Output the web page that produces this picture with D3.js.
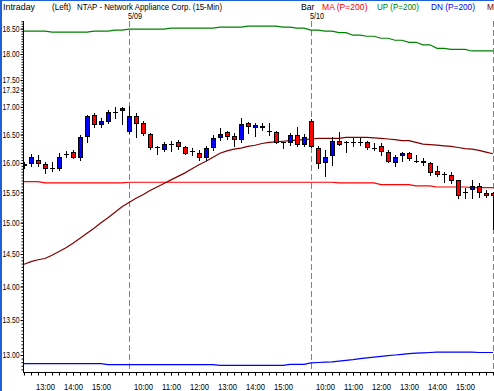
<!DOCTYPE html>
<html>
<head>
<meta charset="utf-8">
<script src="https://cdn.jsdelivr.net/npm/d3@7"></script>
<style>
  html, body { margin: 0; padding: 0; background: #fff; }
  svg { display: block; }
  text { font-family: "Liberation Sans", Arial, sans-serif; font-size: 9px; }
</style>
</head>
<body>
<script>
//chart values, one entry per 15-min bar (5/08 12:15 .. 5/11 09:30)
const opens = [15.97,16.00,16.06,15.98,15.91,15.92,16.16,16.19,16.10,16.47,16.86,16.69,16.75,16.91,16.95,
  16.57,16.84,16.70,16.51,16.27,16.24,16.34,16.36,16.28,16.20,16.17,16.11,16.28,16.45,16.54,16.47,16.42,16.70,
  16.63,16.66,16.56,16.55,16.36,16.37,16.50,16.33,
  16.74,16.26,16.01,16.14,16.39,16.36,16.36,16.36,16.36,16.26,16.30,16.19,16.02,16.13,16.17,16.04,16.04,16.00,
  15.86,15.81,15.80,15.70,15.50,15.56,15.60,15.49,15.49];
const highs = [16.02,16.16,16.14,16.02,16.01,16.18,16.20,16.23,16.49,16.86,16.89,16.80,16.95,17.00,17.00,
  17.02,16.89,16.75,16.53,16.30,16.36,16.39,16.40,16.30,16.26,16.22,16.29,16.49,16.61,16.57,16.52,16.80,16.73,
  16.70,16.70,16.70,16.57,16.37,16.53,16.64,16.51,
  16.77,16.30,16.22,16.45,16.55,16.39,16.43,16.43,16.39,16.35,16.35,16.22,16.14,16.19,16.19,16.14,16.08,16.02,
  15.94,15.85,15.84,15.71,15.57,15.70,15.66,15.54,15.51];
const lows = [15.92,15.95,15.94,15.83,15.87,15.88,16.11,16.08,16.06,16.36,16.64,16.64,16.70,16.80,16.69,
  16.53,16.46,16.49,16.24,16.15,16.20,16.20,16.24,16.16,16.14,16.05,16.05,16.23,16.40,16.42,16.30,16.37,16.53,
  16.48,16.58,16.50,16.35,16.26,16.32,16.30,16.29,
  16.27,15.91,15.77,15.97,16.32,16.19,16.30,16.32,16.24,16.22,16.14,16.02,15.94,16.04,16.05,16.02,15.97,15.80,
  15.77,15.67,15.66,15.40,15.40,15.40,15.42,15.42,14.90];
const closes = [15.99,16.10,16.00,15.92,15.91,16.11,16.16,16.10,16.45,16.84,16.69,16.75,16.91,16.91,16.98,
  16.84,16.71,16.52,16.27,16.27,16.33,16.34,16.30,16.18,16.20,16.11,16.26,16.43,16.51,16.48,16.42,16.68,16.65,
  16.67,16.63,16.56,16.36,16.36,16.49,16.33,16.45,
  16.30,16.00,16.10,16.39,16.33,16.36,16.36,16.36,16.28,16.26,16.20,16.04,16.11,16.17,16.08,16.04,16.01,15.85,
  15.81,15.81,15.71,15.46,15.50,15.60,15.51,15.45,15.45];

//MA (P=200)
const maValues = [15.68,15.68,15.68,15.66,15.66,15.66,15.66,15.66,15.66,15.66,15.66,15.66,15.66,15.66,15.66,
  15.67,15.67,15.67,15.67,15.67,15.67,15.67,15.67,15.67,15.67,15.67,15.67,15.67,15.67,15.67,15.67,15.67,15.67,
  15.67,15.67,15.67,15.67,15.67,15.67,15.67,15.67,
  15.67,15.67,15.67,15.67,15.66,15.66,15.66,15.66,15.66,15.66,15.63,15.63,15.63,15.63,15.63,15.61,15.61,15.61,
  15.59,15.59,15.59,15.59,15.59,15.58,15.58,15.58,15.58];
//UP (P=200)
const upValues = [18.45,18.45,18.45,18.45,18.43,18.43,18.43,18.43,18.43,18.43,18.45,18.45,18.45,18.47,18.47,
  18.49,18.49,18.49,18.49,18.49,18.49,18.51,18.51,18.51,18.51,18.51,18.51,18.51,18.53,18.53,18.53,18.53,18.55,
  18.55,18.55,18.55,18.55,18.53,18.53,18.51,18.51,
  18.47,18.47,18.45,18.45,18.42,18.42,18.37,18.37,18.35,18.35,18.31,18.31,18.27,18.27,18.23,18.23,18.18,18.18,
  18.11,18.11,18.09,18.09,18.09,18.06,18.06,18.06,18.06];
//DN (P=200)
const dnValues = [12.88,12.88,12.88,12.88,12.88,12.88,12.88,12.88,12.88,12.88,12.88,12.88,12.865,12.865,12.865,
  12.865,12.865,12.865,12.865,12.865,12.865,12.865,12.865,12.865,12.865,12.865,12.865,12.865,12.855,12.855,12.855,12.855,12.855,
  12.855,12.855,12.855,12.855,12.855,12.87,12.87,12.87,
  12.89,12.895,12.90,12.905,12.915,12.925,12.935,12.95,12.96,12.97,12.98,12.99,13.00,13.01,13.02,13.025,13.03,13.035,
  13.04,13.04,13.04,13.04,13.04,13.04,13.035,13.035,13.035];
//second MA (dark red)
const ma2Values = [14.34,14.38,14.41,14.43,14.48,14.54,14.60,14.67,14.75,14.83,14.91,15.00,15.08,15.17,15.26,
  15.33,15.40,15.46,15.53,15.59,15.65,15.71,15.77,15.83,15.90,15.97,16.03,16.10,16.17,16.21,16.24,16.26,16.29,
  16.31,16.34,16.36,16.37,16.38,16.39,16.40,16.41,
  16.42,16.43,16.43,16.43,16.43,16.45,16.45,16.45,16.45,16.44,16.43,16.42,16.41,16.39,16.39,16.36,16.33,16.32,
  16.31,16.30,16.29,16.27,16.25,16.24,16.22,16.19,16.16];

const tickBars = [3, 7, 11, 17, 21, 25, 29, 33, 37, 43, 47, 51, 55, 59, 63];
const tickLabels = ["13:00","14:00","15:00","10:00","11:00","12:00","13:00","14:00","15:00",
  "10:00","11:00","12:00","13:00","14:00","15:00"];
const dayBars = [15, 41, 67];
const dayLabels = ["5/09", "5/10", ""];
const yTicks = [18.5, 18, 17.5, 17.32, 17, 16.5, 16, 15.5, 15, 14.5, 14, 13.5, 13];

const width = 494, height = 391;
const plotLeft = 23, plotTop = 21, plotBottom = 372, plotRight = 494;

const svg = d3.select("body").append("svg")
  .attr("width", width)
  .attr("height", height);

svg.append("rect").attr("width", width).attr("height", height).attr("fill", "#fff");

//blue frame edges
svg.append("rect").attr("x", 0).attr("y", 0).attr("width", width).attr("height", 1).attr("fill", "#1f5fd8");
svg.append("rect").attr("x", 0).attr("y", 0).attr("width", 2).attr("height", height).attr("fill", "#1f5fd8");

//scales
const x = d3.scaleLinear().domain([0, 67]).range([24, 493]);
const y = d3.scaleLog().domain([13, 18.5]).range([355, 28.7]);

//header (text, left x, width, colour)
const header = svg.append("g").attr("class", "header");
const headItems = [
  ["Intraday", 3, 32, "#000"], ["(Left)", 52, 19, "#000"],
  ["NTAP - Network Appliance Corp.  (15-Min)", 77, 145, "#000"],
  ["Bar", 301, 13.5, "#000"], ["MA (P=200)", 322, 45.5, "#ff0000"], ["UP (P=200)", 377, 42, "#008000"],
  ["DN (P=200)", 431, 44, "#0000ff"], ["M", 487, 7, "#800000"]
];
header.selectAll("text").data(headItems).enter().append("text")
  .attr("x", d => d[1]).attr("y", 9.5)
  .attr("textLength", d => d[2]).attr("lengthAdjust", "spacingAndGlyphs")
  .attr("fill", d => d[3])
  .text(d => d[0]);

svg.append("defs").append("clipPath").attr("id", "plot")
  .append("rect").attr("x", plotLeft + 1).attr("y", plotTop).attr("width", plotRight - plotLeft).attr("height", plotBottom - plotTop);

//day separators
const days = svg.append("g");
days.selectAll("line").data(dayBars).enter().append("line")
  .attr("x1", d => Math.round(x(d)) + 0.5).attr("x2", d => Math.round(x(d)) + 0.5)
  .attr("y1", plotTop).attr("y2", plotBottom)
  .attr("stroke", "#808080").attr("stroke-dasharray", "6,3");
days.selectAll("text").data(dayBars.slice(0, 2)).enter().append("text")
  .attr("x", d => Math.round(x(d)) - 1).attr("y", 18.5)
  .attr("textLength", 14).attr("lengthAdjust", "spacingAndGlyphs")
  .text((d, i) => dayLabels[i]);

//y axis, minor then major ticks
const minor = d3.range(12.75, 18.9, 0.05).filter(v => y(v) > plotTop && y(v) < plotBottom);
svg.append("g")
  .attr("transform", "translate(" + (plotLeft + 0.5) + ",0)")
  .call(d3.axisLeft(y).tickValues(minor).tickSize(2).tickSizeOuter(0).tickFormat(""))
  .call(g => g.select(".domain").remove());
const yAxis = svg.append("g")
  .attr("transform", "translate(" + (plotLeft + 0.5) + ",0)")
  .call(d3.axisLeft(y).tickValues(yTicks).tickSize(3).tickPadding(1).tickSizeOuter(0).tickFormat(d3.format(".2f")));
yAxis.select(".domain").remove();
yAxis.selectAll("text").attr("font-size", null).attr("font-family", null).attr("fill", "#000")
  .attr("textLength", 17).attr("lengthAdjust", "spacingAndGlyphs");

//x axis
svg.append("g")
  .attr("transform", "translate(0," + (plotBottom + 0.5) + ")")
  .call(d3.axisBottom(x).tickValues(d3.range(0, 68)).tickSize(3).tickSizeOuter(0).tickFormat(""))
  .call(g => g.select(".domain").remove());
const xAxis = svg.append("g")
  .attr("transform", "translate(0," + (plotBottom + 0.5) + ")")
  .call(d3.axisBottom(x).tickValues(tickBars).tickSize(3).tickPadding(8)
    .tickFormat((d, i) => tickLabels[i]));
xAxis.select(".domain").remove();
xAxis.selectAll("text").attr("font-size", null).attr("font-family", null).attr("fill", "#000")
  .attr("textLength", 19).attr("lengthAdjust", "spacingAndGlyphs");

//axis lines
svg.append("line").attr("x1", plotLeft + 0.5).attr("x2", plotLeft + 0.5).attr("y1", plotTop).attr("y2", plotBottom + 1)
  .attr("stroke", "#000");
svg.append("line").attr("x1", plotLeft).attr("x2", plotRight).attr("y1", plotBottom + 0.5).attr("y2", plotBottom + 0.5)
  .attr("stroke", "#000");

const plot = svg.append("g").attr("clip-path", "url(#plot)");

//indicator lines
const series = [
  [upValues, "#008000"], [dnValues, "#0000ff"], [maValues, "#ff0000"], [ma2Values, "#800000"]
];
series.forEach(s => {
  plot.append("path")
    .datum(s[0])
    .attr("fill", "none")
    .attr("stroke", s[1])
    .attr("stroke-width", 1.2)
    .attr("d", d3.line().x((d, i) => x(i)).y(d => y(d)));
});

//candles
const bars = d3.range(opens.length);
const cx = i => Math.round(x(i));
plot.selectAll(".wick").data(bars).enter().append("line")
  .attr("class", "wick")
  .attr("x1", i => cx(i) + 0.5).attr("x2", i => cx(i) + 0.5)
  .attr("y1", i => Math.round(y(highs[i]))).attr("y2", i => Math.round(y(lows[i])) + 1)
  .attr("stroke", "#000");

const bodies = bars.filter(i => opens[i] !== closes[i]);
plot.selectAll(".body").data(bodies).enter().append("rect")
  .attr("class", "body")
  .attr("x", i => cx(i) - 1.5)
  .attr("y", i => Math.round(y(Math.max(opens[i], closes[i]))) + 0.5)
  .attr("width", 4)
  .attr("height", i => Math.max(1, Math.round(y(Math.min(opens[i], closes[i]))) - Math.round(y(Math.max(opens[i], closes[i])))))
  .attr("fill", i => closes[i] > opens[i] ? "#0000ff" : "#ff0000")
  .attr("stroke", "#000");

const dojis = bars.filter(i => opens[i] === closes[i]);
plot.selectAll(".doji").data(dojis).enter().append("line")
  .attr("class", "doji")
  .attr("x1", i => cx(i) - 2).attr("x2", i => cx(i) + 3)
  .attr("y1", i => Math.round(y(closes[i])) + 0.5).attr("y2", i => Math.round(y(closes[i])) + 0.5)
  .attr("stroke", "#000");
</script>
</body>
</html>
